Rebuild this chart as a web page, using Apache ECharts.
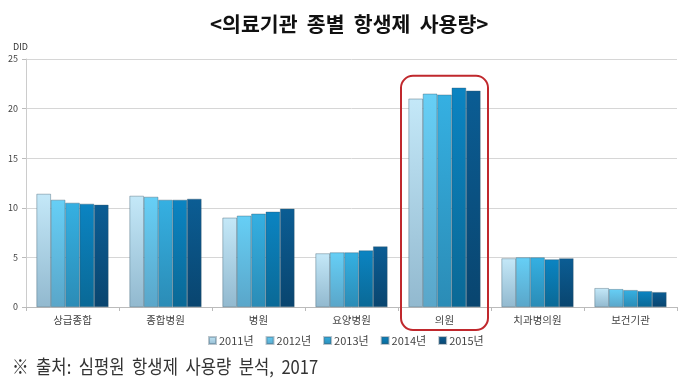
<!DOCTYPE html>
<html>
<head>
<meta charset="utf-8">
<script src="https://cdn.jsdelivr.net/npm/echarts@6/dist/echarts.min.js"></script>
<style>
html,body{margin:0;padding:0;background:#fff;}
#c{width:680px;height:390px;}
</style>
</head>
<body>
<div id="c"></div>
<script>
const categories = ['상급종합','종합병원','병원','요양병원','의원','치과병의원','보건기관'];
const years = ['2011년','2012년','2013년','2014년','2015년'];
const v2011 = [11.4, 11.2, 9.0, 5.4, 21.0, 4.9, 1.9];
const v2012 = [10.8, 11.1, 9.2, 5.5, 21.5, 5.0, 1.8];
const v2013 = [10.5, 10.8, 9.4, 5.5, 21.4, 5.0, 1.7];
const v2014 = [10.4, 10.8, 9.6, 5.7, 22.1, 4.8, 1.6];
const v2015 = [10.3, 10.9, 9.9, 6.1, 21.8, 4.9, 1.5];
const yTicks = [0, 5, 10, 15, 20, 25];
const seriesValues = [v2011, v2012, v2013, v2014, v2015];

const topColors = ['#c4e8f8', '#66cff6', '#35b0e2', '#0b84c2', '#0b5d94'];
const botColors = ['#92b9cf', '#5aa6c9', '#2b8cb6', '#0a6996', '#09456f'];

const chart = echarts.init(document.getElementById('c'));
const font = '"Noto Sans CJK KR", "Noto Sans", sans-serif';

const series = seriesValues.map((vals, i) => ({
  name: years[i],
  type: 'bar',
  data: vals,
  barWidth: 14.4,
  barGap: '0%',
  itemStyle: {
    color: new echarts.graphic.LinearGradient(0, 0, 0, 1, [
      {offset: 0, color: topColors[i]},
      {offset: 1, color: botColors[i]}
    ]),
    borderColor: 'rgba(60,90,110,0.35)',
    borderWidth: 0.6
  }
}));

chart.setOption({
  animation: false,
  backgroundColor: '#fff',
  title: [
    {text: '<의료기관  종별  항생제  사용량>', left: 205, top: 9,
     textStyle: {fontFamily: font, fontSize: 20.5, fontWeight: 'bold', color: '#111'}},
    {text: 'DID', left: 8, top: 37,
     textStyle: {fontFamily: font, fontSize: 9, fontWeight: 'normal', color: '#333'}}
  ],
  legend: {
    data: years, left: 203, top: 330, itemWidth: 7, itemHeight: 7, itemGap: 12,
    icon: 'rect',
    textStyle: {fontFamily: font, fontSize: 11, color: '#444', padding: [0,0,0,-2]}
  },
  grid: {left: 26, right: 3, top: 59, bottom: 83},
  xAxis: {
    type: 'category', data: categories,
    axisLine: {lineStyle: {color: '#bbb'}},
    axisTick: {show: true, length: 4, lineStyle: {color: '#bbb'}},
    axisLabel: {fontFamily: font, fontSize: 10.5, color: '#444', margin: 8}
  },
  yAxis: {
    type: 'value', min: 0, max: 25, interval: 5,
    axisLine: {show: true, lineStyle: {color: '#ccc'}},
    axisTick: {show: true, length: 4, lineStyle: {color: '#bbb'}},
    axisLabel: {fontFamily: font, fontSize: 9, color: '#444', margin: 8,
      formatter: v => yTicks.includes(v) ? String(v) : ''},
    splitLine: {lineStyle: {color: '#d6d6d6'}}
  },
  series: series
});

// red highlight box around 의원
const cx = chart.convertToPixel({xAxisIndex: 0}, '의원');
const band = (680 - 26 - 3) / categories.length;
const yTop = chart.convertToPixel({yAxisIndex: 0}, 23.3);
chart.setOption({
  graphic: [{
    type: 'rect',
    shape: {x: cx - band/2 + 3, y: yTop, width: band - 6, height: 330 - yTop, r: 12},
    style: {fill: 'none', stroke: '#c0282d', lineWidth: 2},
    z: 100
  }, {
    type: 'text',
    x: 12, y: 357, scaleX: 0.875,
    style: {text: '※  출처:  심평원  항생제  사용량  분석,  2017', font: '19px ' + font, fill: '#333'}
  }]
});
</script>
</body>
</html>
